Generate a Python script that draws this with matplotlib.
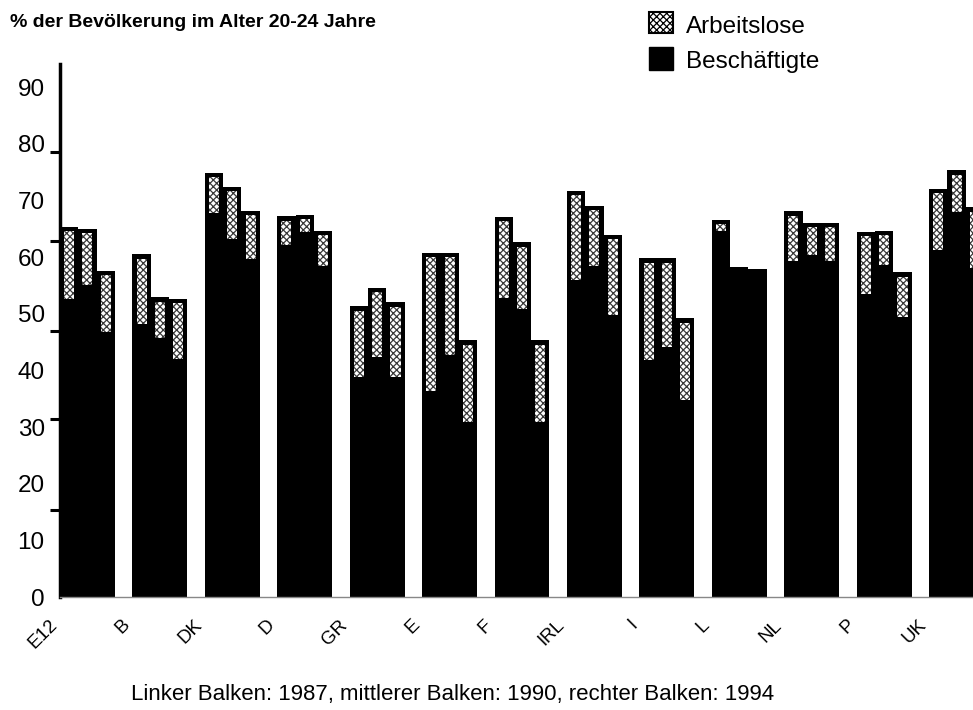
import numpy as np
import matplotlib
matplotlib.use("Agg")
import matplotlib.pyplot as plt
import matplotlib.transforms as mtransforms
from matplotlib.patches import Rectangle

plt.rcParams['font.family'] = ['Liberation Sans', 'DejaVu Sans']
plt.rcParams['hatch.linewidth'] = 0.9

countries = ['E12', 'B', 'DK', 'D', 'GR', 'E', 'F', 'IRL', 'I', 'L', 'NL', 'P', 'UK']
years = ['1987', '1990', '1994']

# Beschäftigte (employed) share, % of population aged 20-24
employed_1987 = [52.6, 48.2, 67.8, 62.2, 38.8, 36.4, 52.8, 56.0, 41.9, 64.6, 59.4, 53.5, 61.2]
employed_1990 = [55.0, 45.8, 63.2, 64.4, 42.4, 42.7, 50.9, 58.5, 44.2, 58.2, 60.3, 58.7, 68.0]
employed_1994 = [46.7, 42.0, 59.7, 58.5, 38.8, 30.9, 30.9, 49.8, 34.8, 57.9, 59.4, 49.5, 58.1]

# Arbeitslose (unemployed) share
unemployed_1987 = [12.8, 12.3, 7.1, 5.0, 12.5, 24.4, 14.3, 15.7, 17.9, 2.0, 8.7, 10.9, 10.9]
unemployed_1990 = [10.0, 7.1, 9.2, 3.1, 12.2, 18.1, 11.7, 10.5, 15.6, 0.0, 5.8, 6.0, 7.3]
unemployed_1994 = [10.9, 10.6, 8.5, 6.1, 13.2, 14.4, 14.4, 14.1, 14.4, 0.0, 6.6, 7.8, 10.7]

yticks = [0, 10, 20, 30, 40, 50, 60, 70, 80, 90]

employed = [employed_1987, employed_1990, employed_1994]
unemployed = [unemployed_1987, unemployed_1990, unemployed_1994]

fig = plt.figure(figsize=(9.73, 7.10), dpi=100)
ax = fig.add_axes([60 / 973, (710 - 597) / 710, 913 / 973, (597 - 64) / 710])

x = np.arange(len(countries))
w = 0.2527
offsets = [-w, 0, w]
inset_top = 0.75
dot_kw = dict(facecolor='white', edgecolor='#3a3a3a', hatch='xxxxx', linewidth=0)

for k in range(3):
    emp = np.array(employed[k])
    une = np.array(unemployed[k])
    tot = emp + une
    ax.bar(x + offsets[k], tot, width=w, color='black', linewidth=0, zorder=2)
    mask = une > 0
    ax.bar((x + offsets[k])[mask], np.maximum(une[mask] - inset_top, 0.3), bottom=emp[mask],
           width=w * 0.55, zorder=3, **dot_kw)

for s in ['top', 'right']:
    ax.spines[s].set_visible(False)
ax.spines['left'].set_linewidth(2.5)
ax.spines['bottom'].set_linewidth(1.0)
ax.spines['bottom'].set_color('#888888')

ax.set_yticks(yticks)
ax.set_yticklabels([str(v) for v in yticks])
ax.tick_params(axis='y', which='major', length=0, pad=11, labelsize=17.5)
ax.set_yticks([0, 15.4, 31.5, 47.0, 62.9, 78.5], minor=True)
ax.tick_params(axis='y', which='minor', length=7, width=2.2, direction='out')

ax.set_xticks(x)
ax.set_xticklabels(countries, rotation=45, ha='right', rotation_mode='anchor', fontsize=13.5)
ax.tick_params(axis='x', length=0, pad=14)
shift = mtransforms.ScaledTranslation(-38.5 / 100, 0, fig.dpi_scale_trans)
for lab in ax.get_xticklabels():
    lab.set_transform(lab.get_transform() + shift)

ax.set_xlim(-1.5 * w, -1.5 * w + 913 / 72.43)
ax.set_ylim(0, 94.1)

# Title
fig.text(10 / 973, (710 - 27) / 710, '% der Bevölkerung im Alter 20-24 Jahre',
         fontsize=14, fontweight='bold', ha='left', va='baseline')

# Legend (manual)
fig.patches.append(Rectangle((649 / 973, (710 - 33) / 710), 24 / 973, 21 / 710,
                             transform=fig.transFigure, figure=fig, facecolor='white',
                             edgecolor='black', hatch='xxxxx', linewidth=1.5))
fig.patches.append(Rectangle((649 / 973, (710 - 70) / 710), 24 / 973, 23 / 710,
                             transform=fig.transFigure, figure=fig, facecolor='black',
                             edgecolor='black', linewidth=1.0))
fig.text(686 / 973, (710 - 33) / 710, 'Arbeitslose', fontsize=17.5, ha='left', va='baseline')
fig.text(686 / 973, (710 - 68) / 710, 'Beschäftigte', fontsize=17.5, ha='left', va='baseline')

# Caption
fig.text(131 / 973, (710 - 700) / 710,
         'Linker Balken: 1987, mittlerer Balken: 1990, rechter Balken: 1994',
         fontsize=16, ha='left', va='baseline')

fig.savefig('out.png', dpi=100)
